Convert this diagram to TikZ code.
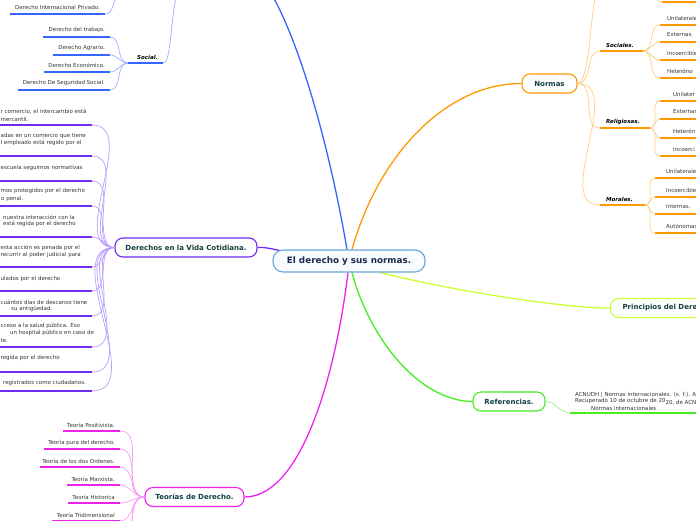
\documentclass[tikz,border=0pt]{standalone}
\usepackage{fontspec}
\setmainfont{DejaVu Sans}
\definecolor{cblue}{HTML}{3366FF}
\definecolor{cbluel}{HTML}{9DB0FF}
\definecolor{corange}{HTML}{FF9900}
\definecolor{corangel}{HTML}{FFCC80}
\definecolor{cyg}{HTML}{CCFF33}
\definecolor{cgreen}{HTML}{44EE22}
\definecolor{cgreenl}{HTML}{99F580}
\definecolor{cmag}{HTML}{EE22EE}
\definecolor{cmagl}{HTML}{F59AF5}
\definecolor{cpur}{HTML}{6E2BF2}
\definecolor{cpurl}{HTML}{B89CFA}
\definecolor{ccentral}{HTML}{6AA6DA}
\definecolor{ccentralf}{HTML}{F8FBFF}
\definecolor{ntext}{HTML}{123F3F}
\definecolor{ctext}{HTML}{1B2A4E}
\definecolor{ltext}{HTML}{333333}
\pgfdeclarelayer{bg}
\pgfsetlayers{bg,main}
\begin{document}
\begin{tikzpicture}[x=1pt,y=-1pt,
  lbl/.style={font=\fontsize{5.5}{6.6}\selectfont, text=ltext, inner sep=0pt},
  catl/.style={font=\fontsize{5.5}{6.6}\selectfont\bfseries\itshape, text=black, inner sep=0pt},
  hub/.style={draw, rounded corners=8pt, line width=1.1pt, fill=white, font=\fontsize{7}{8}\selectfont\bfseries, text=ntext, inner sep=0pt, minimum height=19pt},
  ulb/.style={line width=1.5pt, cblue},
  cvb/.style={line width=0.7pt, cbluel},
  ulo/.style={line width=1.5pt, corange},
  cvo/.style={line width=0.7pt, corangel},
  ulp/.style={line width=1.5pt, cpur},
  cvp/.style={line width=0.7pt, cpurl},
  ulm/.style={line width=1.5pt, cmag},
  cvm/.style={line width=0.7pt, cmagl},
  lr/.style={out=0,in=180}
]
\useasboundingbox (0,0) rectangle (696,520);
\clip (0,0) rectangle (696,520);

% ---------- main nodes ----------
\node[hub, draw=ccentral, fill=ccentralf, font=\fontsize{8.8}{10}\selectfont\bfseries, text=ctext, minimum width=152pt, minimum height=22pt, rounded corners=10pt] (root) at (349,261) {El derecho y sus normas.};
\node[hub, draw=cpur, minimum width=142pt] (der) at (186,247.5) {Derechos en la Vida Cotidiana.};
\node[hub, draw=corange, minimum width=55pt] (nor) at (549.5,83.5) {Normas};
\node[hub, draw=cyg, anchor=west, inner xsep=12pt] (pri) at (610,308) {Principios del Dere};
\node[hub, draw=cgreen, minimum width=72pt] (ref) at (509,401.5) {Referencias.};
\node[hub, draw=cmag, minimum width=99pt] (teo) at (194.5,497) {Teorías de Derecho.};

\coordinate (bluetop) at (268,-12);

\begin{pgfonlayer}{bg}
% ---------- main connectors ----------
\draw[line width=1.3pt, cblue] ([xshift=-2pt]root.north) .. controls (330,150) and (300,40) .. (bluetop);
\draw[line width=1.3pt, corange] ([xshift=3pt]root.north) .. controls (380,150) and (450,83) .. (nor.west);
\draw[line width=1.3pt, cyg] ([xshift=31pt]root.south) .. controls (450,290) and (560,308) .. (pri.west);
\draw[line width=1.3pt, cgreen] ([xshift=3pt]root.south) .. controls (370,340) and (420,401) .. (ref.west);
\draw[line width=1.3pt, cmag] ([xshift=-1pt]root.south) .. controls (335,380) and (300,497) .. (teo.east);
\draw[line width=1.3pt, cpur] (der.east) .. controls (266,247) and (272,249) .. ([xshift=7pt,yshift=-1pt]root.north west);
\end{pgfonlayer}

% ---------- blue branch (top left) ----------
\coordinate (dipa) at (10,14); \coordinate (dipb) at (105,14); \coordinate (diptop) at (118,-8);
\draw[ulb] (dipa) -- (dipb);
\draw[cvb] (dipb) .. controls (114,14) and (113,0) .. (diptop);
\node[lbl, anchor=east] (dip) at (100,7) {Derecho Internacional Privado.};

\coordinate (soca) at (128,63); \coordinate (socb) at (163,63); \coordinate (soctop) at (178,-10);
\draw[ulb] (soca) -- (socb);
\draw[cvb] (socb) .. controls (172,63) and (170,15) .. (soctop);
\node[catl, anchor=west] (soc) at (137,57) {Social.};

\foreach \n/\y/\x/\t in {1/37/43/{Derecho del trabajo.}, 2/55/53/{Derecho Agrario.}, 3/72/44/{Derecho Económico.}, 4/90/18/{Derecho De Seguridad Social.}}{
  \coordinate (sa\n) at (\x,\y); \coordinate (sb\n) at (110,\y);
  \draw[ulb] (sa\n) -- (sb\n);
  \draw[cvb] (sb\n) to[lr] (soca);
  \node[lbl, anchor=east] (st\n) at (105,\y-7) {\t};
}

% ---------- Normas branch (top right) ----------
\coordinate (ntop) at (597,-10);
\draw[cvo] (nor.east) .. controls (590,83) and (590,10) .. (ntop);
\coordinate (tch0) at (662,2); \coordinate (tch1) at (700,2); \coordinate (tchtop) at (650,-12);
\draw[ulo] (tch0) -- (tch1);
\draw[cvo] (tch0) .. controls (655,2) and (654,-5) .. (tchtop);

\foreach \c/\y/\xe/\t in {1/51/643/{Sociales.}, 2/128/650/{Religiosas.}, 3/205/645/{Morales.}}{
  \coordinate (ca\c) at (600,\y); \coordinate (cb\c) at (\xe,\y);
  \draw[ulo] (ca\c) -- (cb\c);
  \draw[cvo] (nor.east) to[lr] (ca\c);
  \node[catl, anchor=west] (ct\c) at (606,\y-6) {\t};
}
\foreach \n/\y/\t in {1/25/{Unilaterale}, 2/42/{Externas.}, 3/60/{Incoercible}, 4/78/{Heteróno}}{
  \coordinate (soa\n) at (660,\y); \coordinate (sob\n) at (700,\y);
  \draw[ulo] (soa\n) -- (sob\n);
  \draw[cvo] (cb1) to[lr] (soa\n);
  \node[lbl, anchor=west] (sot\n) at (667,\y-7) {\t};
}
\foreach \n/\y/\t in {1/101/{Unilater}, 2/119/{Externas}, 3/138/{Heterón}, 4/156/{Incoerci}}{
  \coordinate (rea\n) at (660,\y); \coordinate (reb\n) at (700,\y);
  \draw[ulo] (rea\n) -- (reb\n);
  \draw[cvo] (cb2) to[lr] (rea\n);
  \node[lbl, anchor=west] (ret\n) at (673,\y-7) {\t};
}
\foreach \n/\y/\t in {1/178/{Unilaterale}, 2/197/{Incoercible}, 3/214/{Internas.}, 4/233/{Autónomas}}{
  \coordinate (moa\n) at (655,\y); \coordinate (mob\n) at (700,\y);
  \draw[ulo] (moa\n) -- (mob\n);
  \draw[cvo] (cb3) to[lr] (moa\n);
  \node[lbl, anchor=west] (mot\n) at (666,\y-7) {\t};
}

% ---------- Derechos en la Vida Cotidiana (left) ----------
\foreach \n/\y in {1/125, 2/156, 3/181, 4/206, 5/237, 6/267, 7/291, 8/316, 9/347, 10/372, 11/391}{
  \coordinate (da\n) at (-5,\y); \coordinate (db\n) at (92,\y);
  \draw[ulp] (da\n) -- (db\n);
  \draw[cvp] (db\n) to[lr] (der.west);
}
\node[lbl, anchor=west] (t1a) at (0.5,112) {r comercio, el intercambio está};
\node[lbl, anchor=west] (t1b) at (0.5,119) {mercantil.};
\node[lbl, anchor=west] (t2a) at (0.5,136) {adas en un comercio que tiene};
\node[lbl, anchor=west] (t2b) at (0.5,143) {l empleado está regido por el};
\node[lbl, anchor=west] (t3a) at (0.5,168) {escuela seguimos normativas};
\node[lbl, anchor=west] (t4a) at (0.5,191) {mos protegidos por el derecho};
\node[lbl, anchor=west] (t4b) at (1,199) {o penal.};
\node[lbl, anchor=west] (t5a) at (3,217) {nuestra interacción con la};
\node[lbl, anchor=west] (t5b) at (3,223.5) {está regida por el derecho};
\node[lbl, anchor=west] (t6a) at (0.5,248) {esta acción es penada por el};
\node[lbl, anchor=west] (t6b) at (0.5,254.5) {recurrir al poder judicial para};
\node[lbl, anchor=west] (t7a) at (0.5,279) {ulados por el derecho};
\node[lbl, anchor=west] (t8a) at (0.5,302) {cuántos días de descanso tiene};
\node[lbl, anchor=west] (t8b) at (11,309) {su antigüedad.};
\node[lbl, anchor=west] (t9a) at (0.5,326) {cceso a la salud pública. Eso};
\node[lbl, anchor=west] (t9b) at (10,333) {un hospital público en caso de};
\node[lbl, anchor=west] (t9c) at (0.5,340.5) {te.};
\node[lbl, anchor=west] (t10a) at (0.5,358) {regida por el derecho};
\node[lbl, anchor=west] (t11a) at (3,383) {registrados como ciudadanos.};

% ---------- Teorías de Derecho (bottom left) ----------
\foreach \n/\y/\x/\t in {1/431/63/{Teoría Positivista.}, 2/449/44/{Teoría pura del derecho.}, 3/467/40/{Teoría de los dos Ordenes.}, 4/485/67/{Teoría Marxista.}, 5/503/68/{Teoría Historica}, 6/521/52/{Teoría Tridimensional}}{
  \coordinate (ta\n) at (\x,\y); \coordinate (tb\n) at (120,\y);
  \draw[ulm] (ta\n) -- (tb\n);
  \draw[cvm] (tb\n) to[lr] (teo.west);
  \node[lbl, anchor=east] (tt\n) at (115,\y-6) {\t};
}
\coordinate (tb7) at (120,539); \coordinate (tb8) at (120,557);
\draw[cvm] (tb7) to[lr] (teo.west);
\draw[cvm] (tb8) to[lr] (teo.west);

% ---------- Referencias ----------
\coordinate (rfa) at (570,413); \coordinate (rfb) at (700,413);
\draw[line width=1.5pt, cgreen] (rfa) -- (rfb);
\draw[line width=0.7pt, cgreenl] (ref.east) to[lr] (rfa);
\node[lbl, anchor=west] (rt1) at (575,395) {ACNUDH | Normas internacionales. (s. f.). A};
\node[lbl, anchor=west] (rt2) at (575,401.5) {Recuperado 10 de octubre de 20\raisebox{-1.6pt}{20, de ACN}};
\node[lbl, anchor=west] (rt3) at (591,408) {Normas internacionales};
\end{tikzpicture}
\end{document}
